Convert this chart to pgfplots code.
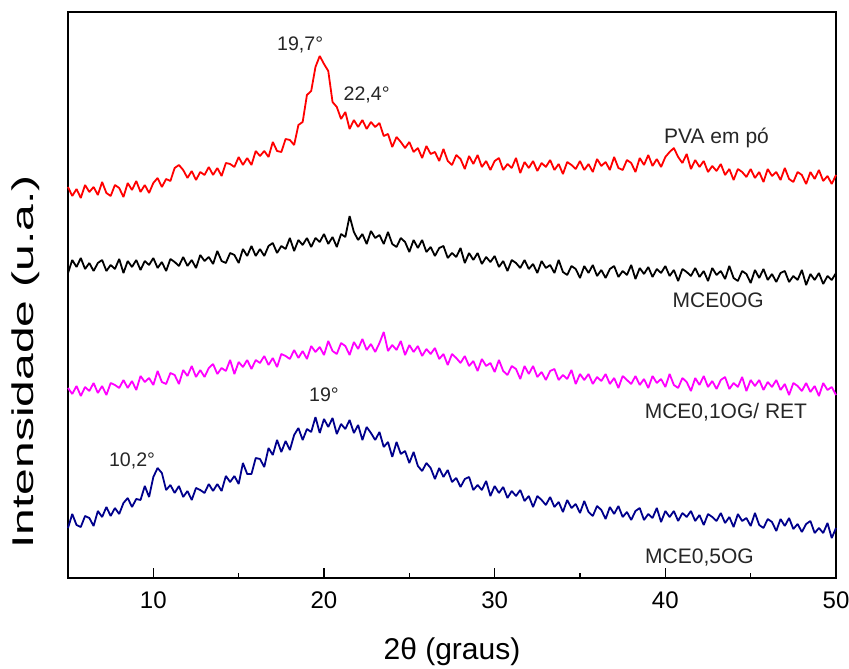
\documentclass[border=0pt]{standalone}
\usepackage{pgfplots}
\pgfplotsset{compat=1.18}
\usepackage{fontspec}
\usepackage{graphicx}
\setmainfont{Liberation Sans}
\definecolor{xrdnavy}{RGB}{0,0,140}
\definecolor{xrdmag}{RGB}{255,0,255}
\begin{document}
\begin{tikzpicture}
\useasboundingbox (-34pt,-45pt) rectangle (390.5pt,289pt);
\begin{axis}[
  scale only axis, width=384pt, height=283pt,
  xmin=5, xmax=50, ymin=0, ymax=566,
  xtick={10,20,30,40,50}, minor x tick num=1,
  ytick=\empty, xtick pos=bottom, tick align=inside,
  major tick length=5pt, minor tick length=2.5pt,
  axis line style={line width=1pt},
  every tick/.style={black, line width=0.8pt},
  xticklabel style={font=\fontsize{12}{14}\selectfont, yshift=-3.3pt},
  /pgf/number format/assume math mode=true,
  clip=false,
  every axis plot/.append style={no marks, line width=0.9pt, line join=bevel},
]
% PVA em po
\addplot[red] coordinates {
(5,391)(5.25,382)(5.5,389)(5.75,380)
(6,393)(6.25,386)(6.5,391)(6.75,383)
(7,396)(7.25,385)(7.5,382)(7.75,393)
(8,390)(8.25,381)(8.5,395)(8.75,388)
(9,397)(9.25,386)(9.5,393)(9.75,385)
(10,395)(10.25,400)(10.5,391)(10.75,399)
(11,397)(11.25,410)(11.5,413)(11.75,408)
(12,400)(12.25,407)(12.5,398)(12.75,406)
(13,403)(13.25,411)(13.5,403)(13.75,410)
(14,402)(14.25,415)(14.5,414)(14.75,411)
(15,421)(15.25,413)(15.5,420)(15.75,413)
(16,427)(16.25,422)(16.5,427)(16.75,421)
(17,436)(17.25,427)(17.5,426)(17.75,439)
(18,438)(18.25,433)(18.5,453)(18.75,456)
(19,483)(19.25,487)(19.5,511)(19.75,522)
(20,514)(20.25,507)(20.5,476)(20.75,471)
(21,459)(21.25,466)(21.5,449)(21.75,458)
(22,451)(22.25,458)(22.5,449)(22.75,456)
(23,451)(23.25,455)(23.5,442)(23.75,444)
(24,431)(24.25,441)(24.5,436)(24.75,430)
(25,436)(25.25,426)(25.5,430)(25.75,420)
(26,432)(26.25,424)(26.5,426)(26.75,417)
(27,429)(27.25,417)(27.5,413)(27.75,423)
(28,419)(28.25,409)(28.5,422)(28.75,414)
(29,423)(29.25,411)(29.5,417)(29.75,408)
(30,417)(30.25,420)(30.5,408)(30.75,414)
(31,410)(31.25,420)(31.5,405)(31.75,416)
(32,410)(32.25,417)(32.5,407)(32.75,415)
(33,411)(33.25,418)(33.5,408)(33.75,414)
(34,404)(34.25,416)(34.5,413)(34.75,409)
(35,417)(35.25,408)(35.5,414)(35.75,406)
(36,419)(36.25,412)(36.5,416)(36.75,408)
(37,421)(37.25,410)(37.5,408)(37.75,418)
(38,415)(38.25,406)(38.5,420)(38.75,413)
(39,423)(39.25,412)(39.5,419)(39.75,411)
(40,421)(40.25,426)(40.5,430)(40.75,421)
(41,415)(41.25,424)(41.5,409)(41.75,418)
(42,411)(42.25,417)(42.5,406)(42.75,412)
(43,407)(43.25,414)(43.5,403)(43.75,409)
(44,398)(44.25,409)(44.5,406)(44.75,401)
(45,409)(45.25,400)(45.5,406)(45.75,396)
(46,409)(46.25,402)(46.5,406)(46.75,398)
(47,410)(47.25,399)(47.5,396)(47.75,406)
(48,403)(48.25,394)(48.5,406)(48.75,399)
(49,408)(49.25,397)(49.5,402)(49.75,394)
(50,403)
};
% MCE0OG
\addplot[black] coordinates {
(5,305)(5.25,318)(5.5,311)(5.75,320)
(6,309)(6.25,315)(6.5,307)(6.75,315)
(7,318)(7.25,307)(7.5,313)(7.75,309)
(8,319)(8.25,305)(8.5,317)(8.75,311)
(9,318)(9.25,308)(9.5,317)(9.75,313)
(10,320)(10.25,310)(10.5,316)(10.75,307)
(11,319)(11.25,316)(11.5,312)(11.75,321)
(12,312)(12.25,318)(12.5,310)(12.75,323)
(13,317)(13.25,321)(13.5,314)(13.75,327)
(14,317)(14.25,315)(14.5,325)(14.75,323)
(15,315)(15.25,329)(15.5,322)(15.75,332)
(16,322)(16.25,329)(16.5,322)(16.75,332)
(17,335)(17.25,325)(17.5,332)(17.75,329)
(18,340)(18.25,327)(18.5,338)(18.75,333)
(19,340)(19.25,331)(19.5,340)(19.75,336)
(20,344)(20.25,334)(20.5,341)(20.75,331)
(21,344)(21.25,341)(21.5,362)(21.75,346)
(22,338)(22.25,344)(22.5,334)(22.75,347)
(23,340)(23.25,343)(23.5,334)(23.75,346)
(24,334)(24.25,331)(24.5,340)(24.75,336)
(25,326)(25.25,338)(25.5,330)(25.75,338)
(26,326)(26.25,331)(26.5,322)(26.75,330)
(27,332)(27.25,320)(27.5,325)(27.75,321)
(28,330)(28.25,315)(28.5,325)(28.75,318)
(29,325)(29.25,314)(29.5,321)(29.75,316)
(30,322)(30.25,311)(30.5,317)(30.75,307)
(31,318)(31.25,315)(31.5,310)(31.75,318)
(32,309)(32.25,314)(32.5,305)(32.75,317)
(33,310)(33.25,313)(33.5,305)(33.75,318)
(34,306)(34.25,303)(34.5,312)(34.75,309)
(35,300)(35.25,312)(35.5,305)(35.75,313)
(36,302)(36.25,308)(36.5,300)(36.75,309)
(37,312)(37.25,301)(37.5,307)(37.75,303)
(38,313)(38.25,299)(38.5,310)(38.75,304)
(39,311)(39.25,301)(39.5,309)(39.75,305)
(40,312)(40.25,302)(40.5,308)(40.75,297)
(41,309)(41.25,306)(41.5,302)(41.75,310)
(42,301)(42.25,307)(42.5,297)(42.75,310)
(43,303)(43.25,307)(43.5,299)(43.75,312)
(44,300)(44.25,297)(44.5,307)(44.75,304)
(45,295)(45.25,308)(45.5,300)(45.75,309)
(46,298)(46.25,304)(46.5,296)(46.75,305)
(47,307)(47.25,296)(47.5,302)(47.75,298)
(48,308)(48.25,293)(48.5,304)(48.75,298)
(49,305)(49.25,294)(49.5,302)(49.75,298)
(50,305)
};
% MCE0,1OG/ RET
\addplot[xrdmag] coordinates {
(5,190)(5.25,184)(5.5,192)(5.75,182)
(6,191)(6.25,187)(6.5,195)(6.75,185)
(7,192)(7.25,183)(7.5,195)(7.75,193)
(8,190)(8.25,198)(8.5,190)(8.75,197)
(9,188)(9.25,202)(9.5,196)(9.75,200)
(10,193)(10.25,207)(10.5,196)(10.75,194)
(11,205)(11.25,203)(11.5,194)(11.75,208)
(12,202)(12.25,212)(12.5,201)(12.75,208)
(13,201)(13.25,210)(13.5,214)(13.75,204)
(14,210)(14.25,207)(14.5,218)(14.75,204)
(15,216)(15.25,211)(15.5,218)(15.75,209)
(16,218)(16.25,215)(16.5,222)(16.75,213)
(17,220)(17.25,211)(17.5,224)(17.75,222)
(18,219)(18.25,228)(18.5,220)(18.75,227)
(19,219)(19.25,232)(19.5,226)(19.75,231)
(20,223)(20.25,237)(20.5,227)(20.75,224)
(21,235)(21.25,232)(21.5,223)(21.75,236)
(22,229)(22.25,239)(22.5,228)(22.75,234)
(23,226)(23.25,235)(23.5,246)(23.75,227)
(24,233)(24.25,228)(24.5,237)(24.75,223)
(25,233)(25.25,226)(25.5,232)(25.75,222)
(26,229)(26.25,224)(26.5,230)(26.75,219)
(27,224)(27.25,213)(27.5,224)(27.75,220)
(28,215)(28.25,222)(28.5,212)(28.75,217)
(29,207)(29.25,219)(29.5,212)(29.75,215)
(30,206)(30.25,218)(30.5,207)(30.75,203)
(31,212)(31.25,209)(31.5,199)(31.75,212)
(32,204)(32.25,212)(32.5,201)(32.75,206)
(33,198)(33.25,207)(33.5,209)(33.75,198)
(34,203)(34.25,199)(34.5,208)(34.75,194)
(35,204)(35.25,198)(35.5,204)(35.75,194)
(36,201)(36.25,197)(36.5,204)(36.75,194)
(37,200)(37.25,190)(37.5,202)(37.75,198)
(38,194)(38.25,202)(38.5,193)(38.75,199)
(39,190)(39.25,202)(39.5,195)(39.75,199)
(40,191)(40.25,204)(40.5,193)(40.75,190)
(41,200)(41.25,196)(41.5,187)(41.75,200)
(42,193)(42.25,202)(42.5,191)(42.75,197)
(43,189)(43.25,198)(43.5,201)(43.75,189)
(44,195)(44.25,191)(44.5,201)(44.75,187)
(45,198)(45.25,192)(45.5,198)(45.75,188)
(46,196)(46.25,191)(46.5,198)(46.75,188)
(47,194)(47.25,183)(47.5,195)(47.75,192)
(48,187)(48.25,195)(48.5,186)(48.75,192)
(49,182)(49.25,195)(49.5,188)(49.75,191)
(50,183)
};
% MCE0,5OG
\addplot[xrdnavy] coordinates {
(5,50)(5.25,64)(5.5,53)(5.75,51)
(6,62)(6.25,60)(6.5,52)(6.75,67)
(7,61)(7.25,71)(7.5,62)(7.75,70)
(8,64)(8.25,75)(8.5,80)(8.75,71)
(9,79)(9.25,78)(9.5,92)(9.75,81)
(10,101)(10.25,110)(10.5,105)(10.75,88)
(11,93)(11.25,85)(11.5,92)(11.75,81)
(12,87)(12.25,78)(12.5,90)(12.75,88)
(13,85)(13.25,94)(13.5,87)(13.75,94)
(14,87)(14.25,102)(14.5,96)(14.75,102)
(15,94)(15.25,115)(15.5,104)(15.75,104)
(16,120)(16.25,119)(16.5,111)(16.75,130)
(17,123)(17.25,138)(17.5,126)(17.75,137)
(18,128)(18.25,143)(18.5,150)(18.75,138)
(19,149)(19.25,146)(19.5,161)(19.75,145)
(20,159)(20.25,151)(20.5,160)(20.75,144)
(21,154)(21.25,149)(21.5,158)(21.75,145)
(22,153)(22.25,138)(22.5,151)(22.75,145)
(23,138)(23.25,146)(23.5,131)(23.75,136)
(24,121)(24.25,136)(24.5,124)(24.75,127)
(25,115)(25.25,126)(25.5,112)(25.75,107)
(26,115)(26.25,110)(26.5,99)(26.75,110)
(27,101)(27.25,108)(27.5,96)(27.75,100)
(28,91)(28.25,99)(28.5,101)(28.75,88)
(29,93)(29.25,88)(29.5,97)(29.75,82)
(30,92)(30.25,85)(30.5,91)(30.75,80)
(31,87)(31.25,82)(31.5,88)(31.75,77)
(32,82)(32.25,71)(32.5,82)(32.75,78)
(33,73)(33.25,81)(33.5,71)(33.75,76)
(34,66)(34.25,78)(34.5,70)(34.75,74)
(35,65)(35.25,77)(35.5,66)(35.75,62)
(36,72)(36.25,68)(36.5,59)(36.75,71)
(37,64)(37.25,72)(37.5,61)(37.75,66)
(38,58)(38.25,67)(38.5,70)(38.75,58)
(39,64)(39.25,60)(39.5,70)(39.75,56)
(40,67)(40.25,61)(40.5,67)(40.75,57)
(41,65)(41.25,61)(41.5,67)(41.75,57)
(42,63)(42.25,53)(42.5,64)(42.75,61)
(43,57)(43.25,65)(43.5,55)(43.75,61)
(44,51)(44.25,64)(44.5,57)(44.75,60)
(45,52)(45.25,65)(45.5,53)(45.75,50)
(46,59)(46.25,56)(46.5,47)(46.75,59)
(47,52)(47.25,60)(47.5,49)(47.75,54)
(48,46)(48.25,54)(48.5,57)(48.75,45)
(49,50)(49.25,45)(49.5,55)(49.75,40)
(50,50)
};
% peak and sample labels
\begin{scope}[every node/.style={font=\fontsize{9.8}{12}\selectfont, text=black!85}]
\node at (axis cs:18.6,533) {19,7°};
\node at (axis cs:22.5,483) {22,4°};
\node at (axis cs:20.0,183) {19°};
\node at (axis cs:8.75,117) {10,2°};
\end{scope}
\begin{scope}[every node/.style={font=\fontsize{10.5}{12}\selectfont, text=black!85}]
\node at (axis cs:43.0,440) {PVA em pó};
\node at (axis cs:43.1,278) {MCE0OG};
\node at (axis cs:43.55,166) {MCE0,1OG/ RET};
\node at (axis cs:42.0,20) {MCE0,5OG};
\end{scope}
\node[font=\fontsize{15}{18}\selectfont] at ([yshift=-37pt]rel axis cs:0.5,0) {2θ (graus)};
\node[rotate=90, font=\fontsize{15}{18}\selectfont] at ([xshift=-21pt]rel axis cs:0,0.382) {\scalebox{1.6}[1]{Intensidade (u.a.)}};
\end{axis}
\end{tikzpicture}
\end{document}
